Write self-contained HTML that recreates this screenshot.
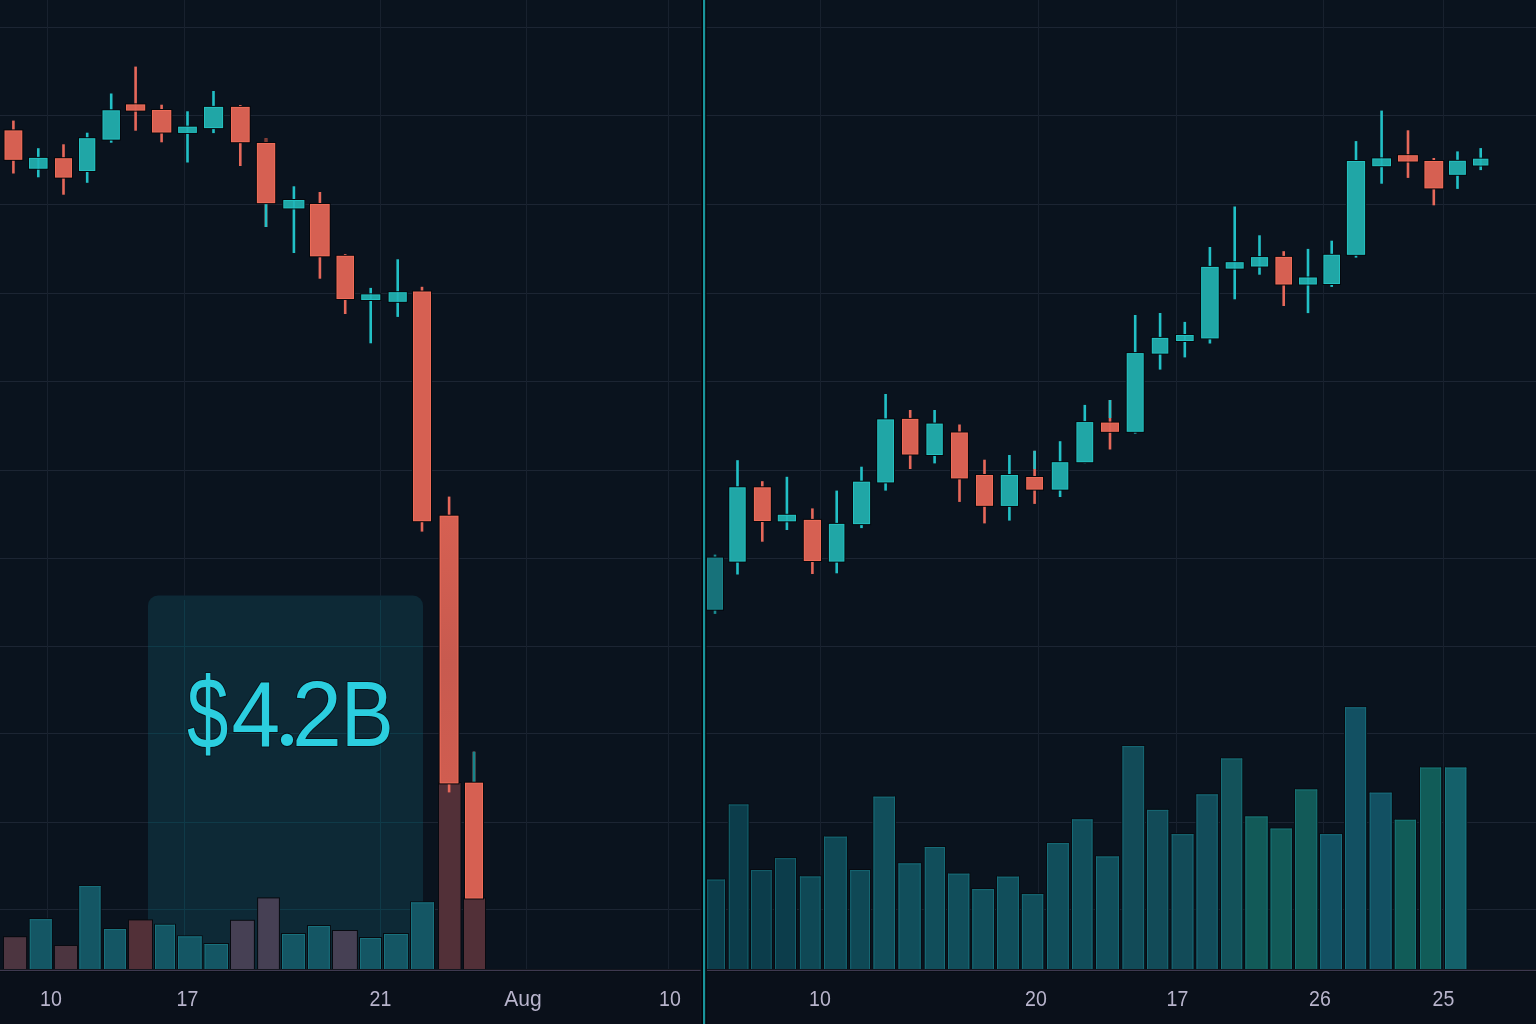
<!DOCTYPE html>
<html><head><meta charset="utf-8"><title>Chart</title>
<style>
html,body{margin:0;padding:0;background:#0a131e;}
body{width:1536px;height:1024px;overflow:hidden;}
svg{display:block;will-change:transform;}
.lb{font-family:"Liberation Sans",sans-serif;font-size:22px;fill:#b8b4cc;}
.big{font-family:"Liberation Sans",sans-serif;font-size:92px;fill:#2bcedf;stroke:#07141c;stroke-width:2px;paint-order:stroke;stroke-linejoin:round;}
.dot{font-family:"Liberation Serif",serif;}
</style></head>
<body>
<svg width="1536" height="1024" viewBox="0 0 1536 1024">
<defs><linearGradient id="g18" x1="0" y1="0" x2="0" y2="1"><stop offset="0" stop-color="#d66052"/><stop offset="0.55" stop-color="#c85a4f"/><stop offset="1" stop-color="#d05d50"/></linearGradient></defs>
<rect x="0" y="0" width="1536" height="1024" fill="#0a131e"/>
<rect x="0" y="971" width="1536" height="53" fill="#0a101a"/>
<rect x="0" y="27" width="1536" height="1" fill="#1c2533"/>
<rect x="0" y="115" width="1536" height="1" fill="#1c2533"/>
<rect x="0" y="204" width="1536" height="1" fill="#1c2533"/>
<rect x="0" y="293" width="1536" height="1" fill="#1c2533"/>
<rect x="0" y="381" width="1536" height="1" fill="#1c2533"/>
<rect x="0" y="470" width="1536" height="1" fill="#1c2533"/>
<rect x="0" y="558" width="1536" height="1" fill="#1c2533"/>
<rect x="0" y="646" width="1536" height="1" fill="#1c2533"/>
<rect x="0" y="733" width="1536" height="1" fill="#1c2533"/>
<rect x="0" y="822" width="1536" height="1" fill="#1c2533"/>
<rect x="0" y="909" width="1536" height="1" fill="#1c2533"/>
<rect x="47" y="0" width="1" height="970" fill="#18212e"/>
<rect x="184" y="0" width="1" height="970" fill="#18212e"/>
<rect x="380" y="0" width="1" height="970" fill="#18212e"/>
<rect x="526" y="0" width="1" height="970" fill="#18212e"/>
<rect x="668" y="0" width="1" height="970" fill="#18212e"/>
<rect x="820" y="0" width="1" height="970" fill="#18212e"/>
<rect x="1038" y="0" width="1" height="970" fill="#18212e"/>
<rect x="1176" y="0" width="1" height="970" fill="#18212e"/>
<rect x="1323" y="0" width="1" height="970" fill="#18212e"/>
<rect x="1443" y="0" width="1" height="970" fill="#18212e"/>
<rect x="148" y="595.5" width="275" height="374.5" rx="10" ry="10" fill="#0d2936"/>
<rect x="148" y="646" width="275" height="1" fill="#0f3a48"/>
<rect x="148" y="733" width="275" height="1" fill="#0f3a48"/>
<rect x="148" y="822" width="275" height="1" fill="#0f3a48"/>
<rect x="148" y="909" width="275" height="1" fill="#0f3a48"/>
<rect x="184" y="600" width="1" height="370" fill="#0f3a48"/>
<rect x="380" y="600" width="1" height="370" fill="#0f3a48"/>
<rect x="3" y="936.2" width="24.1" height="32.8" fill="#070a10"/>
<rect x="4" y="937.2" width="22.1" height="31.8" fill="#4c3540"/>
<rect x="28.8" y="918.2" width="23.9" height="50.8" fill="#070a10"/>
<rect x="29.8" y="919.2" width="21.9" height="49.8" fill="#145664"/>
<rect x="29.8" y="919.2" width="1" height="49.8" fill="#18707c"/>
<rect x="50.7" y="919.2" width="1" height="49.8" fill="#18707c"/>
<rect x="29.8" y="919.2" width="21.9" height="1" fill="#18707c"/>
<rect x="53.9" y="945" width="24.1" height="24" fill="#070a10"/>
<rect x="54.9" y="946" width="22.1" height="23" fill="#4c3540"/>
<rect x="78.4" y="885" width="23.1" height="84" fill="#070a10"/>
<rect x="79.4" y="886" width="21.1" height="83" fill="#145664"/>
<rect x="79.4" y="886" width="1" height="83" fill="#18707c"/>
<rect x="99.5" y="886" width="1" height="83" fill="#18707c"/>
<rect x="79.4" y="886" width="21.1" height="1" fill="#18707c"/>
<rect x="103" y="928" width="24" height="41" fill="#070a10"/>
<rect x="104" y="929" width="22" height="40" fill="#145664"/>
<rect x="104" y="929" width="1" height="40" fill="#18707c"/>
<rect x="125" y="929" width="1" height="40" fill="#18707c"/>
<rect x="104" y="929" width="22" height="1" fill="#18707c"/>
<rect x="128" y="919.4" width="25" height="49.6" fill="#070a10"/>
<rect x="129" y="920.4" width="23" height="48.6" fill="#523038"/>
<rect x="154" y="923.8" width="22" height="45.2" fill="#070a10"/>
<rect x="155" y="924.8" width="20" height="44.2" fill="#145664"/>
<rect x="155" y="924.8" width="1" height="44.2" fill="#18707c"/>
<rect x="174" y="924.8" width="1" height="44.2" fill="#18707c"/>
<rect x="155" y="924.8" width="20" height="1" fill="#18707c"/>
<rect x="177" y="935.4" width="25.6" height="33.6" fill="#070a10"/>
<rect x="178" y="936.4" width="23.6" height="32.6" fill="#145664"/>
<rect x="178" y="936.4" width="1" height="32.6" fill="#18707c"/>
<rect x="200.6" y="936.4" width="1" height="32.6" fill="#18707c"/>
<rect x="178" y="936.4" width="23.6" height="1" fill="#18707c"/>
<rect x="203.6" y="943" width="25.4" height="26" fill="#070a10"/>
<rect x="204.6" y="944" width="23.4" height="25" fill="#145664"/>
<rect x="204.6" y="944" width="1" height="25" fill="#18707c"/>
<rect x="227" y="944" width="1" height="25" fill="#18707c"/>
<rect x="204.6" y="944" width="23.4" height="1" fill="#18707c"/>
<rect x="230" y="919.8" width="24.9" height="49.2" fill="#070a10"/>
<rect x="231" y="920.8" width="22.9" height="48.2" fill="#464054"/>
<rect x="257.1" y="897.4" width="22.8" height="71.6" fill="#070a10"/>
<rect x="258.1" y="898.4" width="20.8" height="70.6" fill="#464054"/>
<rect x="281" y="933" width="24.9" height="36" fill="#070a10"/>
<rect x="282" y="934" width="22.9" height="35" fill="#145664"/>
<rect x="282" y="934" width="1" height="35" fill="#18707c"/>
<rect x="303.9" y="934" width="1" height="35" fill="#18707c"/>
<rect x="282" y="934" width="22.9" height="1" fill="#18707c"/>
<rect x="307" y="925" width="23.8" height="44" fill="#070a10"/>
<rect x="308" y="926" width="21.8" height="43" fill="#145664"/>
<rect x="308" y="926" width="1" height="43" fill="#18707c"/>
<rect x="328.8" y="926" width="1" height="43" fill="#18707c"/>
<rect x="308" y="926" width="21.8" height="1" fill="#18707c"/>
<rect x="332" y="930" width="25.9" height="39" fill="#070a10"/>
<rect x="333" y="931" width="23.9" height="38" fill="#464054"/>
<rect x="359" y="937" width="23" height="32" fill="#070a10"/>
<rect x="360" y="938" width="21" height="31" fill="#145664"/>
<rect x="360" y="938" width="1" height="31" fill="#18707c"/>
<rect x="380" y="938" width="1" height="31" fill="#18707c"/>
<rect x="360" y="938" width="21" height="1" fill="#18707c"/>
<rect x="383" y="933" width="25.8" height="36" fill="#070a10"/>
<rect x="384" y="934" width="23.8" height="35" fill="#145664"/>
<rect x="384" y="934" width="1" height="35" fill="#18707c"/>
<rect x="406.8" y="934" width="1" height="35" fill="#18707c"/>
<rect x="384" y="934" width="23.8" height="1" fill="#18707c"/>
<rect x="410" y="901.4" width="25" height="67.6" fill="#070a10"/>
<rect x="411" y="902.4" width="23" height="66.6" fill="#145664"/>
<rect x="411" y="902.4" width="1" height="66.6" fill="#18707c"/>
<rect x="433" y="902.4" width="1" height="66.6" fill="#18707c"/>
<rect x="411" y="902.4" width="23" height="1" fill="#18707c"/>
<rect x="438" y="782" width="23.5" height="187" fill="#070a10"/>
<rect x="439" y="783" width="21.5" height="186" fill="#523038"/>
<rect x="463" y="897.5" width="23" height="71.5" fill="#070a10"/>
<rect x="464" y="898.5" width="21" height="70.5" fill="#523038"/>
<rect x="706.2" y="878.6" width="19.8" height="90.4" fill="#070a10"/>
<rect x="707.2" y="879.6" width="17.8" height="89.4" fill="#0c3d4b"/>
<rect x="707.2" y="879.6" width="1" height="89.4" fill="#13606c"/>
<rect x="724" y="879.6" width="1" height="89.4" fill="#13606c"/>
<rect x="707.2" y="879.6" width="17.8" height="1" fill="#13606c"/>
<rect x="727.8" y="803.5" width="21.6" height="165.5" fill="#070a10"/>
<rect x="728.8" y="804.5" width="19.6" height="164.5" fill="#0c3d4b"/>
<rect x="728.8" y="804.5" width="1" height="164.5" fill="#13606c"/>
<rect x="747.4" y="804.5" width="1" height="164.5" fill="#13606c"/>
<rect x="728.8" y="804.5" width="19.6" height="1" fill="#13606c"/>
<rect x="750" y="869.1" width="22.7" height="99.9" fill="#070a10"/>
<rect x="751" y="870.1" width="20.7" height="98.9" fill="#0c3d4b"/>
<rect x="751" y="870.1" width="1" height="98.9" fill="#13606c"/>
<rect x="770.7" y="870.1" width="1" height="98.9" fill="#13606c"/>
<rect x="751" y="870.1" width="20.7" height="1" fill="#13606c"/>
<rect x="774" y="857.2" width="23" height="111.8" fill="#070a10"/>
<rect x="775" y="858.2" width="21" height="110.8" fill="#0c3d4b"/>
<rect x="775" y="858.2" width="1" height="110.8" fill="#13606c"/>
<rect x="795" y="858.2" width="1" height="110.8" fill="#13606c"/>
<rect x="775" y="858.2" width="21" height="1" fill="#13606c"/>
<rect x="798.9" y="875.5" width="22.7" height="93.5" fill="#070a10"/>
<rect x="799.9" y="876.5" width="20.7" height="92.5" fill="#0f4855"/>
<rect x="799.9" y="876.5" width="1" height="92.5" fill="#156773"/>
<rect x="819.6" y="876.5" width="1" height="92.5" fill="#156773"/>
<rect x="799.9" y="876.5" width="20.7" height="1" fill="#156773"/>
<rect x="823" y="835.7" width="24.8" height="133.3" fill="#070a10"/>
<rect x="824" y="836.7" width="22.8" height="132.3" fill="#0f4855"/>
<rect x="824" y="836.7" width="1" height="132.3" fill="#156773"/>
<rect x="845.8" y="836.7" width="1" height="132.3" fill="#156773"/>
<rect x="824" y="836.7" width="22.8" height="1" fill="#156773"/>
<rect x="849.2" y="869.1" width="21.8" height="99.9" fill="#070a10"/>
<rect x="850.2" y="870.1" width="19.8" height="98.9" fill="#0f4855"/>
<rect x="850.2" y="870.1" width="1" height="98.9" fill="#156773"/>
<rect x="869" y="870.1" width="1" height="98.9" fill="#156773"/>
<rect x="850.2" y="870.1" width="19.8" height="1" fill="#156773"/>
<rect x="872.5" y="795.7" width="23.5" height="173.3" fill="#070a10"/>
<rect x="873.5" y="796.7" width="21.5" height="172.3" fill="#114e5b"/>
<rect x="873.5" y="796.7" width="1" height="172.3" fill="#166b77"/>
<rect x="894" y="796.7" width="1" height="172.3" fill="#166b77"/>
<rect x="873.5" y="796.7" width="21.5" height="1" fill="#166b77"/>
<rect x="897.5" y="862.4" width="24.2" height="106.6" fill="#070a10"/>
<rect x="898.5" y="863.4" width="22.2" height="105.6" fill="#114e5b"/>
<rect x="898.5" y="863.4" width="1" height="105.6" fill="#166b77"/>
<rect x="919.7" y="863.4" width="1" height="105.6" fill="#166b77"/>
<rect x="898.5" y="863.4" width="22.2" height="1" fill="#166b77"/>
<rect x="923.8" y="846" width="22.2" height="123" fill="#070a10"/>
<rect x="924.8" y="847" width="20.2" height="122" fill="#114e5b"/>
<rect x="924.8" y="847" width="1" height="122" fill="#166b77"/>
<rect x="944" y="847" width="1" height="122" fill="#166b77"/>
<rect x="924.8" y="847" width="20.2" height="1" fill="#166b77"/>
<rect x="947" y="872.7" width="23.3" height="96.3" fill="#070a10"/>
<rect x="948" y="873.7" width="21.3" height="95.3" fill="#114e5b"/>
<rect x="948" y="873.7" width="1" height="95.3" fill="#166b77"/>
<rect x="968.3" y="873.7" width="1" height="95.3" fill="#166b77"/>
<rect x="948" y="873.7" width="21.3" height="1" fill="#166b77"/>
<rect x="971.3" y="888.1" width="23.7" height="80.9" fill="#070a10"/>
<rect x="972.3" y="889.1" width="21.7" height="79.9" fill="#114e5b"/>
<rect x="972.3" y="889.1" width="1" height="79.9" fill="#166b77"/>
<rect x="993" y="889.1" width="1" height="79.9" fill="#166b77"/>
<rect x="972.3" y="889.1" width="21.7" height="1" fill="#166b77"/>
<rect x="996" y="875.7" width="23.9" height="93.3" fill="#070a10"/>
<rect x="997" y="876.7" width="21.9" height="92.3" fill="#114e5b"/>
<rect x="997" y="876.7" width="1" height="92.3" fill="#166b77"/>
<rect x="1017.9" y="876.7" width="1" height="92.3" fill="#166b77"/>
<rect x="997" y="876.7" width="21.9" height="1" fill="#166b77"/>
<rect x="1020.9" y="893.2" width="23.3" height="75.8" fill="#070a10"/>
<rect x="1021.9" y="894.2" width="21.3" height="74.8" fill="#114e5b"/>
<rect x="1021.9" y="894.2" width="1" height="74.8" fill="#166b77"/>
<rect x="1042.2" y="894.2" width="1" height="74.8" fill="#166b77"/>
<rect x="1021.9" y="894.2" width="21.3" height="1" fill="#166b77"/>
<rect x="1046" y="842.1" width="23.8" height="126.9" fill="#070a10"/>
<rect x="1047" y="843.1" width="21.8" height="125.9" fill="#114e5b"/>
<rect x="1047" y="843.1" width="1" height="125.9" fill="#166b77"/>
<rect x="1067.8" y="843.1" width="1" height="125.9" fill="#166b77"/>
<rect x="1047" y="843.1" width="21.8" height="1" fill="#166b77"/>
<rect x="1071" y="818.4" width="22.5" height="150.6" fill="#070a10"/>
<rect x="1072" y="819.4" width="20.5" height="149.6" fill="#114e5b"/>
<rect x="1072" y="819.4" width="1" height="149.6" fill="#166b77"/>
<rect x="1091.5" y="819.4" width="1" height="149.6" fill="#166b77"/>
<rect x="1072" y="819.4" width="20.5" height="1" fill="#166b77"/>
<rect x="1095" y="855.5" width="24.9" height="113.5" fill="#070a10"/>
<rect x="1096" y="856.5" width="22.9" height="112.5" fill="#114e5b"/>
<rect x="1096" y="856.5" width="1" height="112.5" fill="#166b77"/>
<rect x="1117.9" y="856.5" width="1" height="112.5" fill="#166b77"/>
<rect x="1096" y="856.5" width="22.9" height="1" fill="#166b77"/>
<rect x="1121.5" y="745.1" width="23.6" height="223.9" fill="#070a10"/>
<rect x="1122.5" y="746.1" width="21.6" height="222.9" fill="#124b58"/>
<rect x="1122.5" y="746.1" width="1" height="222.9" fill="#176975"/>
<rect x="1143.1" y="746.1" width="1" height="222.9" fill="#176975"/>
<rect x="1122.5" y="746.1" width="21.6" height="1" fill="#176975"/>
<rect x="1146" y="808.9" width="23.2" height="160.1" fill="#070a10"/>
<rect x="1147" y="809.9" width="21.2" height="159.1" fill="#124b58"/>
<rect x="1147" y="809.9" width="1" height="159.1" fill="#176975"/>
<rect x="1167.2" y="809.9" width="1" height="159.1" fill="#176975"/>
<rect x="1147" y="809.9" width="21.2" height="1" fill="#176975"/>
<rect x="1170.7" y="833.2" width="23.7" height="135.8" fill="#070a10"/>
<rect x="1171.7" y="834.2" width="21.7" height="134.8" fill="#124b58"/>
<rect x="1171.7" y="834.2" width="1" height="134.8" fill="#176975"/>
<rect x="1192.4" y="834.2" width="1" height="134.8" fill="#176975"/>
<rect x="1171.7" y="834.2" width="21.7" height="1" fill="#176975"/>
<rect x="1195.5" y="793.4" width="23.2" height="175.6" fill="#070a10"/>
<rect x="1196.5" y="794.4" width="21.2" height="174.6" fill="#124c5a"/>
<rect x="1196.5" y="794.4" width="1" height="174.6" fill="#176976"/>
<rect x="1216.7" y="794.4" width="1" height="174.6" fill="#176976"/>
<rect x="1196.5" y="794.4" width="21.2" height="1" fill="#176976"/>
<rect x="1220" y="757.5" width="23.2" height="211.5" fill="#070a10"/>
<rect x="1221" y="758.5" width="21.2" height="210.5" fill="#13525a"/>
<rect x="1221" y="758.5" width="1" height="210.5" fill="#176d76"/>
<rect x="1241.2" y="758.5" width="1" height="210.5" fill="#176d76"/>
<rect x="1221" y="758.5" width="21.2" height="1" fill="#176d76"/>
<rect x="1244.4" y="815.5" width="24.2" height="153.5" fill="#070a10"/>
<rect x="1245.4" y="816.5" width="22.2" height="152.5" fill="#125a58"/>
<rect x="1245.4" y="816.5" width="1" height="152.5" fill="#177275"/>
<rect x="1266.6" y="816.5" width="1" height="152.5" fill="#177275"/>
<rect x="1245.4" y="816.5" width="22.2" height="1" fill="#177275"/>
<rect x="1269.6" y="827.6" width="23.2" height="141.4" fill="#070a10"/>
<rect x="1270.6" y="828.6" width="21.2" height="140.4" fill="#125a58"/>
<rect x="1270.6" y="828.6" width="1" height="140.4" fill="#177275"/>
<rect x="1290.8" y="828.6" width="1" height="140.4" fill="#177275"/>
<rect x="1270.6" y="828.6" width="21.2" height="1" fill="#177275"/>
<rect x="1294" y="788.5" width="24.2" height="180.5" fill="#070a10"/>
<rect x="1295" y="789.5" width="22.2" height="179.5" fill="#125a58"/>
<rect x="1295" y="789.5" width="1" height="179.5" fill="#177275"/>
<rect x="1316.2" y="789.5" width="1" height="179.5" fill="#177275"/>
<rect x="1295" y="789.5" width="22.2" height="1" fill="#177275"/>
<rect x="1319.1" y="833.2" width="23.9" height="135.8" fill="#070a10"/>
<rect x="1320.1" y="834.2" width="21.9" height="134.8" fill="#125062"/>
<rect x="1320.1" y="834.2" width="1" height="134.8" fill="#176c7b"/>
<rect x="1341" y="834.2" width="1" height="134.8" fill="#176c7b"/>
<rect x="1320.1" y="834.2" width="21.9" height="1" fill="#176c7b"/>
<rect x="1344" y="706.3" width="23.1" height="262.7" fill="#070a10"/>
<rect x="1345" y="707.3" width="21.1" height="261.7" fill="#125062"/>
<rect x="1345" y="707.3" width="1" height="261.7" fill="#176c7b"/>
<rect x="1365.1" y="707.3" width="1" height="261.7" fill="#176c7b"/>
<rect x="1345" y="707.3" width="21.1" height="1" fill="#176c7b"/>
<rect x="1368.7" y="791.7" width="23.9" height="177.3" fill="#070a10"/>
<rect x="1369.7" y="792.7" width="21.9" height="176.3" fill="#125062"/>
<rect x="1369.7" y="792.7" width="1" height="176.3" fill="#176c7b"/>
<rect x="1390.6" y="792.7" width="1" height="176.3" fill="#176c7b"/>
<rect x="1369.7" y="792.7" width="21.9" height="1" fill="#176c7b"/>
<rect x="1393.8" y="818.8" width="23.2" height="150.2" fill="#070a10"/>
<rect x="1394.8" y="819.8" width="21.2" height="149.2" fill="#115c58"/>
<rect x="1394.8" y="819.8" width="1" height="149.2" fill="#167475"/>
<rect x="1415" y="819.8" width="1" height="149.2" fill="#167475"/>
<rect x="1394.8" y="819.8" width="21.2" height="1" fill="#167475"/>
<rect x="1419" y="766.6" width="23.1" height="202.4" fill="#070a10"/>
<rect x="1420" y="767.6" width="21.1" height="201.4" fill="#115c58"/>
<rect x="1420" y="767.6" width="1" height="201.4" fill="#167475"/>
<rect x="1440.1" y="767.6" width="1" height="201.4" fill="#167475"/>
<rect x="1420" y="767.6" width="21.1" height="1" fill="#167475"/>
<rect x="1444" y="766.6" width="23.3" height="202.4" fill="#070a10"/>
<rect x="1445" y="767.6" width="21.3" height="201.4" fill="#14606a"/>
<rect x="1445" y="767.6" width="1" height="201.4" fill="#187680"/>
<rect x="1465.3" y="767.6" width="1" height="201.4" fill="#187680"/>
<rect x="1445" y="767.6" width="21.3" height="1" fill="#187680"/>
<rect x="12.1" y="120.6" width="2.6" height="52.9" fill="#e6685a"/><rect x="3.5" y="129.4" width="19.8" height="31.4" fill="#05080d"/><rect x="4.5" y="130.4" width="17.8" height="29.4" fill="#ee6c58"/><rect x="5.5" y="131.4" width="15.8" height="27.4" fill="#d66052"/>
<rect x="37" y="148.2" width="2.6" height="29.1" fill="#22c0c6"/><rect x="28" y="156.9" width="20.6" height="12.8" fill="#05080d"/><rect x="29" y="157.9" width="18.6" height="10.8" fill="#24c0c0"/><rect x="30" y="158.9" width="16.6" height="8.8" fill="#20a6a6"/><rect x="37.3" y="157.9" width="2" height="10.8" fill="#22c0c6" opacity="0.6"/>
<rect x="62.2" y="144.3" width="2.6" height="50.4" fill="#e6685a"/><rect x="54" y="157.2" width="19" height="21.4" fill="#05080d"/><rect x="55" y="158.2" width="17" height="19.4" fill="#ee6c58"/><rect x="56" y="159.2" width="15" height="17.4" fill="#d66052"/>
<rect x="85.9" y="132.7" width="2.6" height="50.1" fill="#22c0c6"/><rect x="78" y="137.2" width="18.3" height="34.8" fill="#05080d"/><rect x="79" y="138.2" width="16.3" height="32.8" fill="#24c0c0"/><rect x="80" y="139.2" width="14.3" height="30.8" fill="#20a6a6"/>
<rect x="109.9" y="93.5" width="2.6" height="49.2" fill="#22c0c6"/><rect x="101.5" y="109.3" width="19.4" height="31.3" fill="#05080d"/><rect x="102.5" y="110.3" width="17.4" height="29.3" fill="#24c0c0"/><rect x="103.5" y="111.3" width="15.4" height="27.3" fill="#20a6a6"/>
<rect x="134.3" y="66.6" width="2.6" height="64.1" fill="#e6685a"/><rect x="125" y="103.4" width="21.2" height="8.2" fill="#05080d"/><rect x="126" y="104.4" width="19.2" height="6.2" fill="#ee6c58"/><rect x="127" y="105.4" width="17.2" height="4.2" fill="#d66052"/><rect x="134.6" y="104.4" width="2" height="6.2" fill="#e6685a" opacity="0.6"/>
<rect x="160.3" y="104.7" width="2.6" height="37.6" fill="#e6685a"/><rect x="151" y="109" width="21.3" height="24.5" fill="#05080d"/><rect x="152" y="110" width="19.3" height="22.5" fill="#ee6c58"/><rect x="153" y="111" width="17.3" height="20.5" fill="#d66052"/>
<rect x="186.2" y="111.3" width="2.6" height="51.2" fill="#22c0c6"/><rect x="177.1" y="125.7" width="20.8" height="8.2" fill="#05080d"/><rect x="178.1" y="126.7" width="18.8" height="6.2" fill="#24c0c0"/><rect x="179.1" y="127.7" width="16.8" height="4.2" fill="#20a6a6"/><rect x="186.5" y="126.7" width="2" height="6.2" fill="#22c0c6" opacity="0.6"/>
<rect x="212.2" y="91" width="2.6" height="42.1" fill="#22c0c6"/><rect x="203" y="105.9" width="21.1" height="23.2" fill="#05080d"/><rect x="204" y="106.9" width="19.1" height="21.2" fill="#24c0c0"/><rect x="205" y="107.9" width="17.1" height="19.2" fill="#20a6a6"/>
<rect x="239" y="105" width="2.6" height="61" fill="#e6685a"/><rect x="230" y="105.9" width="20.7" height="37.3" fill="#05080d"/><rect x="231" y="106.9" width="18.7" height="35.3" fill="#ee6c58"/><rect x="232" y="107.9" width="16.7" height="33.3" fill="#d66052"/>
<rect x="264.7" y="138.1" width="2.6" height="88.9" fill="#e6685a"/><rect x="264.7" y="138.1" width="2.6" height="4.9" fill="#7a3a34"/><rect x="264.7" y="203.1" width="2.6" height="23.9" fill="#22c0c6"/><rect x="255.9" y="142" width="20.3" height="62.1" fill="#05080d"/><rect x="256.9" y="143" width="18.3" height="60.1" fill="#ee6c58"/><rect x="257.9" y="144" width="16.3" height="58.1" fill="#d66052"/>
<rect x="292.6" y="186.3" width="2.6" height="66.7" fill="#22c0c6"/><rect x="282.3" y="199" width="23.1" height="10.4" fill="#05080d"/><rect x="283.3" y="200" width="21.1" height="8.4" fill="#24c0c0"/><rect x="284.3" y="201" width="19.1" height="6.4" fill="#20a6a6"/><rect x="292.9" y="200" width="2" height="8.4" fill="#22c0c6" opacity="0.6"/>
<rect x="318.6" y="192" width="2.6" height="86.7" fill="#e6685a"/><rect x="309" y="203" width="21.7" height="54.3" fill="#05080d"/><rect x="310" y="204" width="19.7" height="52.3" fill="#ee6c58"/><rect x="311" y="205" width="17.7" height="50.3" fill="#d66052"/>
<rect x="343.9" y="254" width="2.6" height="60" fill="#e6685a"/><rect x="335.5" y="254.8" width="19.5" height="45.2" fill="#05080d"/><rect x="336.5" y="255.8" width="17.5" height="43.2" fill="#ee6c58"/><rect x="337.5" y="256.8" width="15.5" height="41.2" fill="#d66052"/>
<rect x="369.4" y="287.9" width="2.6" height="55.4" fill="#22c0c6"/><rect x="360.2" y="293.4" width="21.1" height="7.6" fill="#05080d"/><rect x="361.2" y="294.4" width="19.1" height="5.6" fill="#24c0c0"/><rect x="362.2" y="295.4" width="17.1" height="3.6" fill="#20a6a6"/><rect x="369.8" y="294.4" width="2" height="5.6" fill="#22c0c6" opacity="0.6"/>
<rect x="396.4" y="259.3" width="2.6" height="57.6" fill="#22c0c6"/><rect x="387.6" y="291.2" width="20.2" height="11.6" fill="#05080d"/><rect x="388.6" y="292.2" width="18.2" height="9.6" fill="#24c0c0"/><rect x="389.6" y="293.2" width="16.2" height="7.6" fill="#20a6a6"/><rect x="396.7" y="292.2" width="2" height="9.6" fill="#22c0c6" opacity="0.6"/>
<rect x="420.7" y="286.8" width="2.6" height="244.8" fill="#e6685a"/><rect x="412" y="290.5" width="20" height="231.7" fill="#05080d"/><rect x="413" y="291.5" width="18" height="229.7" fill="#ee6c58"/><rect x="414" y="292.5" width="16" height="227.7" fill="#d66052"/>
<rect x="447.8" y="496.6" width="2.6" height="295.8" fill="#e6685a"/><rect x="438.6" y="514.7" width="20.9" height="269.7" fill="#05080d"/><rect x="439.6" y="515.7" width="18.9" height="267.7" fill="#ee6c58"/><rect x="440.6" y="516.7" width="16.9" height="265.7" fill="url(#g18)"/>
<rect x="472.7" y="751.7" width="2.6" height="146.8" fill="#e6685a"/><rect x="472.7" y="751.7" width="2.6" height="31" fill="#17868c"/><rect x="464" y="781.7" width="20" height="117.8" fill="#05080d"/><rect x="465" y="782.7" width="18" height="115.8" fill="#ee6c58"/><rect x="466" y="783.7" width="16" height="113.8" fill="#d66052"/>
<rect x="713.7" y="554.6" width="2.6" height="59.3" fill="#1a8a90"/><rect x="706" y="556.6" width="18" height="54.1" fill="#05080d"/><rect x="707" y="557.6" width="16" height="52.1" fill="#1a8088"/><rect x="708" y="558.6" width="14" height="50.1" fill="#17727a"/>
<rect x="736.2" y="460.2" width="2.6" height="114.3" fill="#22c0c6"/><rect x="728.3" y="486.3" width="18.4" height="76.3" fill="#05080d"/><rect x="729.3" y="487.3" width="16.4" height="74.3" fill="#24c0c0"/><rect x="730.3" y="488.3" width="14.4" height="72.3" fill="#20a6a6"/>
<rect x="761" y="481.2" width="2.6" height="60.5" fill="#e6685a"/><rect x="752.9" y="486.3" width="18.9" height="35.7" fill="#05080d"/><rect x="753.9" y="487.3" width="16.9" height="33.7" fill="#ee6c58"/><rect x="754.9" y="488.3" width="14.9" height="31.7" fill="#d66052"/>
<rect x="785.6" y="476.8" width="2.6" height="53.2" fill="#22c0c6"/><rect x="776.8" y="513.8" width="20.2" height="8.5" fill="#05080d"/><rect x="777.8" y="514.8" width="18.2" height="6.5" fill="#24c0c0"/><rect x="778.8" y="515.8" width="16.2" height="4.5" fill="#20a6a6"/><rect x="785.9" y="514.8" width="2" height="6.5" fill="#22c0c6" opacity="0.6"/>
<rect x="811.1" y="508.4" width="2.6" height="65.6" fill="#e6685a"/><rect x="802.8" y="518.9" width="19.2" height="43.1" fill="#05080d"/><rect x="803.8" y="519.9" width="17.2" height="41.1" fill="#ee6c58"/><rect x="804.8" y="520.9" width="15.2" height="39.1" fill="#d66052"/>
<rect x="835.4" y="490.6" width="2.6" height="82.7" fill="#22c0c6"/><rect x="827.9" y="522.9" width="17.5" height="39.7" fill="#05080d"/><rect x="828.9" y="523.9" width="15.5" height="37.7" fill="#24c0c0"/><rect x="829.9" y="524.9" width="13.5" height="35.7" fill="#20a6a6"/>
<rect x="860.2" y="466.7" width="2.6" height="61.4" fill="#22c0c6"/><rect x="852" y="480.7" width="19.1" height="44.4" fill="#05080d"/><rect x="853" y="481.7" width="17.1" height="42.4" fill="#24c0c0"/><rect x="854" y="482.7" width="15.1" height="40.4" fill="#20a6a6"/>
<rect x="884.3" y="394" width="2.6" height="96.6" fill="#22c0c6"/><rect x="876.2" y="418.4" width="18.8" height="65" fill="#05080d"/><rect x="877.2" y="419.4" width="16.8" height="63" fill="#24c0c0"/><rect x="878.2" y="420.4" width="14.8" height="61" fill="#20a6a6"/>
<rect x="908.9" y="410" width="2.6" height="59" fill="#e6685a"/><rect x="901" y="417.9" width="18.4" height="37.6" fill="#05080d"/><rect x="902" y="418.9" width="16.4" height="35.6" fill="#ee6c58"/><rect x="903" y="419.9" width="14.4" height="33.6" fill="#d66052"/>
<rect x="933.3" y="410" width="2.6" height="53.4" fill="#22c0c6"/><rect x="925.4" y="422.6" width="18.4" height="33.4" fill="#05080d"/><rect x="926.4" y="423.6" width="16.4" height="31.4" fill="#24c0c0"/><rect x="927.4" y="424.6" width="14.4" height="29.4" fill="#20a6a6"/>
<rect x="958.2" y="424.5" width="2.6" height="77.4" fill="#e6685a"/><rect x="950" y="431.5" width="18.9" height="47.9" fill="#05080d"/><rect x="951" y="432.5" width="16.9" height="45.9" fill="#ee6c58"/><rect x="952" y="433.5" width="14.9" height="43.9" fill="#d66052"/>
<rect x="983.2" y="459.7" width="2.6" height="63.7" fill="#e6685a"/><rect x="975" y="474" width="19" height="32.8" fill="#05080d"/><rect x="976" y="475" width="17" height="30.8" fill="#ee6c58"/><rect x="977" y="476" width="15" height="28.8" fill="#d66052"/>
<rect x="1008.1" y="455" width="2.6" height="65.6" fill="#22c0c6"/><rect x="999.8" y="474" width="19.2" height="32.9" fill="#05080d"/><rect x="1000.8" y="475" width="17.2" height="30.9" fill="#24c0c0"/><rect x="1001.8" y="476" width="15.2" height="28.9" fill="#20a6a6"/>
<rect x="1033.3" y="450.8" width="2.6" height="53.1" fill="#e6685a"/><rect x="1033.3" y="450.8" width="2.6" height="18.2" fill="#22c0c6"/><rect x="1025.2" y="476" width="18.8" height="14.6" fill="#05080d"/><rect x="1026.2" y="477" width="16.8" height="12.6" fill="#ee6c58"/><rect x="1027.2" y="478" width="14.8" height="10.6" fill="#d66052"/>
<rect x="1058.8" y="441.2" width="2.6" height="55.8" fill="#22c0c6"/><rect x="1050.8" y="461.2" width="18.5" height="29.4" fill="#05080d"/><rect x="1051.8" y="462.2" width="16.5" height="27.4" fill="#24c0c0"/><rect x="1052.8" y="463.2" width="14.5" height="25.4" fill="#20a6a6"/>
<rect x="1083.5" y="404.9" width="2.6" height="58.3" fill="#22c0c6"/><rect x="1075.4" y="421.1" width="18.8" height="42.1" fill="#05080d"/><rect x="1076.4" y="422.1" width="16.8" height="40.1" fill="#24c0c0"/><rect x="1077.4" y="423.1" width="14.8" height="38.1" fill="#20a6a6"/>
<rect x="1108.7" y="400" width="2.6" height="49.5" fill="#e6685a"/><rect x="1108.7" y="400" width="2.6" height="18" fill="#22c0c6"/><rect x="1100" y="421.6" width="20" height="11.2" fill="#05080d"/><rect x="1101" y="422.6" width="18" height="9.2" fill="#ee6c58"/><rect x="1102" y="423.6" width="16" height="7.2" fill="#d66052"/><rect x="1109" y="422.6" width="2" height="9.2" fill="#e6685a" opacity="0.6"/>
<rect x="1133.9" y="315" width="2.6" height="118.6" fill="#22c0c6"/><rect x="1125.7" y="352.1" width="19" height="80.7" fill="#05080d"/><rect x="1126.7" y="353.1" width="17" height="78.7" fill="#24c0c0"/><rect x="1127.7" y="354.1" width="15" height="76.7" fill="#20a6a6"/>
<rect x="1158.8" y="313" width="2.6" height="56.6" fill="#22c0c6"/><rect x="1150.8" y="336.9" width="18.5" height="17.7" fill="#05080d"/><rect x="1151.8" y="337.9" width="16.5" height="15.7" fill="#24c0c0"/><rect x="1152.8" y="338.9" width="14.5" height="13.7" fill="#20a6a6"/>
<rect x="1183.5" y="321.9" width="2.6" height="35.5" fill="#22c0c6"/><rect x="1175" y="334" width="19.7" height="8" fill="#05080d"/><rect x="1176" y="335" width="17.7" height="6" fill="#24c0c0"/><rect x="1177" y="336" width="15.7" height="4" fill="#20a6a6"/><rect x="1183.8" y="335" width="2" height="6" fill="#22c0c6" opacity="0.6"/>
<rect x="1208.6" y="247" width="2.6" height="96.5" fill="#22c0c6"/><rect x="1200.1" y="265.9" width="19.6" height="73.5" fill="#05080d"/><rect x="1201.1" y="266.9" width="17.6" height="71.5" fill="#24c0c0"/><rect x="1202.1" y="267.9" width="15.6" height="69.5" fill="#20a6a6"/>
<rect x="1233.4" y="206.5" width="2.6" height="92.8" fill="#22c0c6"/><rect x="1224.7" y="261.2" width="20" height="8.4" fill="#05080d"/><rect x="1225.7" y="262.2" width="18" height="6.4" fill="#24c0c0"/><rect x="1226.7" y="263.2" width="16" height="4.4" fill="#20a6a6"/><rect x="1233.7" y="262.2" width="2" height="6.4" fill="#22c0c6" opacity="0.6"/>
<rect x="1258.2" y="235.3" width="2.6" height="39.4" fill="#22c0c6"/><rect x="1250" y="256.1" width="19.1" height="11.4" fill="#05080d"/><rect x="1251" y="257.1" width="17.1" height="9.4" fill="#24c0c0"/><rect x="1252" y="258.1" width="15.1" height="7.4" fill="#20a6a6"/><rect x="1258.5" y="257.1" width="2" height="9.4" fill="#22c0c6" opacity="0.6"/>
<rect x="1282.4" y="251.2" width="2.6" height="54.8" fill="#e6685a"/><rect x="1274.4" y="255.9" width="18.6" height="29.6" fill="#05080d"/><rect x="1275.4" y="256.9" width="16.6" height="27.6" fill="#ee6c58"/><rect x="1276.4" y="257.9" width="14.6" height="25.6" fill="#d66052"/>
<rect x="1306.7" y="248.9" width="2.6" height="64.2" fill="#22c0c6"/><rect x="1298" y="276.5" width="19.9" height="9" fill="#05080d"/><rect x="1299" y="277.5" width="17.9" height="7" fill="#24c0c0"/><rect x="1300" y="278.5" width="15.9" height="5" fill="#20a6a6"/><rect x="1307" y="277.5" width="2" height="7" fill="#22c0c6" opacity="0.6"/>
<rect x="1330.4" y="240.7" width="2.6" height="46.2" fill="#22c0c6"/><rect x="1322.4" y="253.8" width="18.6" height="31.2" fill="#05080d"/><rect x="1323.4" y="254.8" width="16.6" height="29.2" fill="#24c0c0"/><rect x="1324.4" y="255.8" width="14.6" height="27.2" fill="#20a6a6"/>
<rect x="1354.7" y="141.1" width="2.6" height="116.5" fill="#22c0c6"/><rect x="1345.9" y="160" width="20.2" height="95.8" fill="#05080d"/><rect x="1346.9" y="161" width="18.2" height="93.8" fill="#24c0c0"/><rect x="1347.9" y="162" width="16.2" height="91.8" fill="#20a6a6"/>
<rect x="1380.3" y="110.6" width="2.6" height="73.1" fill="#22c0c6"/><rect x="1371.2" y="157.4" width="20.8" height="9.8" fill="#05080d"/><rect x="1372.2" y="158.4" width="18.8" height="7.8" fill="#24c0c0"/><rect x="1373.2" y="159.4" width="16.8" height="5.8" fill="#20a6a6"/><rect x="1380.6" y="158.4" width="2" height="7.8" fill="#22c0c6" opacity="0.6"/>
<rect x="1406.7" y="130.3" width="2.6" height="47.6" fill="#e6685a"/><rect x="1397" y="154.2" width="21.9" height="8.3" fill="#05080d"/><rect x="1398" y="155.2" width="19.9" height="6.3" fill="#ee6c58"/><rect x="1399" y="156.2" width="17.9" height="4.3" fill="#d66052"/><rect x="1407" y="155.2" width="2" height="6.3" fill="#e6685a" opacity="0.6"/>
<rect x="1432.5" y="158" width="2.6" height="47.3" fill="#e6685a"/><rect x="1423.4" y="160" width="20.8" height="29.4" fill="#05080d"/><rect x="1424.4" y="161" width="18.8" height="27.4" fill="#ee6c58"/><rect x="1425.4" y="162" width="16.8" height="25.4" fill="#d66052"/>
<rect x="1456.2" y="151.4" width="2.6" height="37.5" fill="#22c0c6"/><rect x="1448" y="159.8" width="18.9" height="16" fill="#05080d"/><rect x="1449" y="160.8" width="16.9" height="14" fill="#24c0c0"/><rect x="1450" y="161.8" width="14.9" height="12" fill="#20a6a6"/>
<rect x="1479.4" y="148.1" width="2.6" height="22" fill="#22c0c6"/><rect x="1472" y="157.7" width="17.4" height="8.8" fill="#05080d"/><rect x="1473" y="158.7" width="15.4" height="6.8" fill="#24c0c0"/><rect x="1474" y="159.7" width="13.4" height="4.8" fill="#20a6a6"/><rect x="1479.7" y="158.7" width="2" height="6.8" fill="#22c0c6" opacity="0.6"/>
<rect x="0" y="969" width="701" height="2.6" fill="#070a10"/>
<rect x="0" y="969.8" width="701" height="1" fill="#4d4660"/>
<rect x="707" y="969" width="829" height="2.6" fill="#070a10"/>
<rect x="707" y="969.8" width="829" height="1" fill="#4d4660"/>
<rect x="700.5" y="0" width="1" height="1024" fill="#111a26"/>
<rect x="701.5" y="0" width="5" height="1024" fill="#030409"/>
<rect x="703" y="0" width="2.2" height="1024" fill="#1a949c"/>
<text transform="translate(51 1006) scale(0.89 1)" x="0" y="0" text-anchor="middle" class="lb">10</text>
<text transform="translate(187.5 1006) scale(0.89 1)" x="0" y="0" text-anchor="middle" class="lb">17</text>
<text transform="translate(380.5 1006) scale(0.89 1)" x="0" y="0" text-anchor="middle" class="lb">21</text>
<text transform="translate(523 1006) scale(0.96 1)" x="0" y="0" text-anchor="middle" class="lb">Aug</text>
<text transform="translate(670 1006) scale(0.89 1)" x="0" y="0" text-anchor="middle" class="lb">10</text>
<text transform="translate(820 1006) scale(0.89 1)" x="0" y="0" text-anchor="middle" class="lb">10</text>
<text transform="translate(1036 1006) scale(0.89 1)" x="0" y="0" text-anchor="middle" class="lb">20</text>
<text transform="translate(1177.5 1006) scale(0.89 1)" x="0" y="0" text-anchor="middle" class="lb">17</text>
<text transform="translate(1320 1006) scale(0.89 1)" x="0" y="0" text-anchor="middle" class="lb">26</text>
<text transform="translate(1443.5 1006) scale(0.89 1)" x="0" y="0" text-anchor="middle" class="lb">25</text>
<text transform="translate(186.88 747.5) scale(0.809 1.1)" x="0" y="0" class="big">$</text>
<text transform="translate(231.49 746) scale(0.951 1.0)" x="0" y="0" class="big">4</text>
<text transform="translate(274.06 744.6) scale(1.130 1.13)" x="0" y="0" class="big dot">.</text>
<text transform="translate(292.02 746) scale(0.975 1.0)" x="0" y="0" class="big">2</text>
<text transform="translate(340.93 746) scale(0.858 1.0)" x="0" y="0" class="big">B</text>
</svg>
</body></html>
